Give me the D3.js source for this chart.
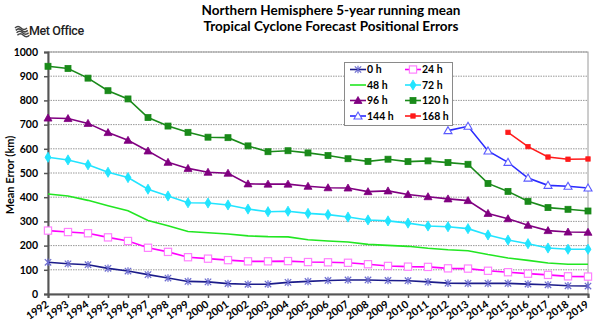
<!DOCTYPE html>
<html>
<head>
<meta charset="utf-8">
<script src="https://cdn.jsdelivr.net/npm/d3@7"></script>
<style>
  html, body { margin: 0; padding: 0; background: #fff; }
  svg { display: block; }
  text { font-family: Lato, "Open Sans", sans-serif; font-weight: bold; fill: #000; }
</style>
</head>
<body>
<svg id="chart" width="600" height="330"></svg>
<script>
// Forecast years (5-year running mean ending in each year)
const years = d3.range(1992, 2020);
const yTicks = [0, 100, 200, 300, 400, 500, 600, 700, 800, 900, 1000];

// Mean positional errors (km) per forecast lead time
const err0h = [131,125,121,106,95,80,66,52,50,43,40,41,48,52,56,58,58,56,55,50,45,44,44,44,41,38,34,33];
const err24h = [262,256,251,234,219,191,174,152,146,140,135,135,136,132,131,129,123,116,113,112,106,105,96,90,84,79,73,72];
const err48h = [413,405,387,365,344,304,282,258,253,248,240,237,236,224,219,215,205,201,197,189,183,179,163,149,139,128,123,123];
const err72h = [565,554,534,503,481,433,405,377,376,368,351,340,342,333,328,318,306,302,293,281,278,270,244,223,208,190,185,185];
const err96h = [727,725,705,667,635,591,544,519,503,499,455,454,454,445,439,438,423,426,411,402,393,386,333,311,284,262,256,255];
const err120h = [941,932,892,840,806,729,694,668,648,646,612,588,592,583,572,559,548,557,547,550,543,536,457,424,383,357,350,343];
const err144h = [null,null,null,null,null,null,null,null,null,null,null,null,null,null,null,null,null,null,null,null,675,693,591,544,479,449,445,438];
const err168h = [null,null,null,null,null,null,null,null,null,null,null,null,null,null,null,null,null,null,null,null,null,null,null,668,609,566,557,558];

const seriesNames = ["0 h", "24 h", "48 h", "72 h", "96 h", "120 h", "144 h", "168 h"];
const seriesValues = [err0h, err24h, err48h, err72h, err96h, err120h, err144h, err168h];

// Per-series look: line colour, marker kind, marker stroke/fill
const styles = [
  { line: "#1c1c8a", marker: "asterisk", mstroke: "#6b6bd0", mfill: "none", size: 3.2 },
  { line: "#ff00ff", marker: "squareOpen", mstroke: "#ff80ff", mfill: "#fff", size: 3.6 },
  { line: "#22e622", marker: "none" },
  { line: "#22e4ff", marker: "dot", mstroke: "#22e4ff", mfill: "#22e4ff", size: 2.6 },
  { line: "#800080", marker: "triangle", mstroke: "#800080", mfill: "#800080", size: 4 },
  { line: "#1a8a1a", marker: "square", mstroke: "#1a8a1a", mfill: "#1a8a1a", size: 3 },
  { line: "#2a2aff", marker: "triangleOpen", mstroke: "#5a5aff", mfill: "#fff", size: 4 },
  { line: "#ff1a1a", marker: "square", mstroke: "#ff1a1a", mfill: "#ff1a1a", size: 2.2 }
];

const svg = d3.select("#chart");
const plotLeft = 48, plotRight = 588, plotTop = 52, plotBottom = 294;

const x = d3.scaleLinear().domain([1992, 2019]).range([plotLeft, plotRight]);
const y = d3.scaleLinear().domain([0, 1000]).range([plotBottom, plotTop]);

// Title
svg.append("text").attr("x", 331).attr("y", 15).attr("text-anchor", "middle")
  .style("font-size", "13.5px").text("Northern Hemisphere 5-year running mean");
svg.append("text").attr("x", 331).attr("y", 31).attr("text-anchor", "middle")
  .style("font-size", "13.5px").text("Tropical Cyclone Forecast Positional Errors");

// Met Office wordmark
const logo = svg.append("g").attr("transform", "translate(15,25)");
[0, 2.4, 4.8, 7.2].forEach((dy, i) => {
  logo.append("path")
    .attr("d", `M${i * 0.8},${dy + 3} q3,-3 6,0 t6,0`)
    .attr("fill", "none").attr("stroke", "#444").attr("stroke-width", 1.5);
});
svg.append("text").attr("x", 29).attr("y", 35)
  .style("font-family", "Roboto, sans-serif").style("font-weight", "500")
  .style("font-size", "12.5px").style("letter-spacing", "-0.4px").style("fill", "#222")
  .text("Met Office");

// Grid lines
svg.append("g").selectAll("line").data(yTicks.filter(t => t > 0)).join("line")
  .attr("x1", plotLeft).attr("x2", plotRight)
  .attr("y1", d => y(d)).attr("y2", d => y(d))
  .attr("stroke", "#999").attr("stroke-width", 1).attr("stroke-dasharray", "1.5,1");

// Plot border
svg.append("rect").attr("x", plotLeft).attr("y", plotTop)
  .attr("width", plotRight - plotLeft).attr("height", plotBottom - plotTop)
  .attr("fill", "none").attr("stroke", "#9a9a9a").attr("stroke-width", 1);

// Y axis
const yAxis = svg.append("g").attr("transform", `translate(${plotLeft},0)`)
  .call(d3.axisLeft(y).tickValues(yTicks).tickSize(4).tickPadding(6).tickFormat(d3.format("d")));
yAxis.select(".domain").attr("stroke", "#555").attr("stroke-width", 2);
yAxis.selectAll(".tick line").attr("stroke", "#555").attr("stroke-width", 1.5);
yAxis.selectAll(".tick text").style("font-size", "10.5px").style("font-family", "Lato, sans-serif").style("font-weight", "bold");

// X axis
const xAxis = svg.append("g").attr("transform", `translate(0,${plotBottom})`)
  .call(d3.axisBottom(x).tickValues(years).tickSize(4).tickFormat(d3.format("d")));
xAxis.select(".domain").attr("stroke", "#555").attr("stroke-width", 2);
xAxis.selectAll(".tick line").attr("stroke", "#555").attr("stroke-width", 1.5);
xAxis.selectAll(".tick text")
  .style("font-size", "10.5px").style("font-family", "Lato, sans-serif").style("font-weight", "bold")
  .attr("text-anchor", "end").attr("dy", null).attr("y", 0)
  .attr("transform", "translate(1,12) rotate(-35)");

// Y axis title
svg.append("text").attr("transform", "translate(14,175) rotate(-90)")
  .attr("text-anchor", "middle").style("font-size", "11px").text("Mean Error (km)");

// Marker drawing
function drawMarker(g, st) {
  const s = st.size;
  if (st.marker === "none") return;
  if (st.marker === "asterisk") {
    g.append("path").attr("d", `M${-s},${-s}L${s},${s}M${-s},${s}L${s},${-s}M0,${-s - 0.6}L0,${s + 0.6}`)
      .attr("stroke", st.mstroke).attr("stroke-width", 1.2).attr("fill", "none");
  } else if (st.marker === "square" || st.marker === "squareOpen") {
    g.append("rect").attr("x", -s).attr("y", -s).attr("width", 2 * s).attr("height", 2 * s)
      .attr("fill", st.mfill).attr("stroke", st.mstroke).attr("stroke-width", st.marker === "squareOpen" ? 1.2 : 0.8);
  } else if (st.marker === "triangle" || st.marker === "triangleOpen") {
    g.append("path").attr("d", `M0,${-s}L${s},${s * 0.75}L${-s},${s * 0.75}Z`)
      .attr("fill", st.mfill).attr("stroke", st.mstroke).attr("stroke-width", st.marker === "triangleOpen" ? 1.1 : 0.8);
  } else if (st.marker === "dot") {
    g.append("path").attr("d", d3.symbol(d3.symbolDiamond, 30)())
      .attr("fill", st.mfill).attr("stroke", st.mstroke).attr("stroke-width", 0.8);
    g.append("circle").attr("r", s).attr("fill", st.mfill);
  }
}

// Series lines and markers
const line = d3.line().defined(d => d.v != null).x(d => x(d.year)).y(d => y(d.v));
seriesValues.forEach((vals, i) => {
  const st = styles[i];
  const pts = years.map((yr, j) => ({ year: yr, v: vals[j] }));
  svg.append("path").datum(pts).attr("d", line)
    .attr("fill", "none").attr("stroke", st.line).attr("stroke-width", 1.6);
  if (st.marker !== "none") {
    pts.filter(d => d.v != null).forEach(d => {
      const g = svg.append("g").attr("transform", `translate(${x(d.year)},${y(d.v)})`);
      drawMarker(g, st);
    });
  }
});

// Legend
const lg = svg.append("g");
lg.append("rect").attr("x", 344.5).attr("y", 62.5).attr("width", 108).attr("height", 63)
  .attr("fill", "#fff").attr("stroke", "#8a8a8a").attr("stroke-width", 1);
seriesNames.forEach((name, i) => {
  const col = i % 2, row = Math.floor(i / 2);
  const lx = 350 + col * 55, ly = 69.5 + row * 15.5;
  const st = styles[i];
  lg.append("line").attr("x1", lx).attr("x2", lx + 16).attr("y1", ly).attr("y2", ly)
    .attr("stroke", st.line).attr("stroke-width", 1.6);
  const g = lg.append("g").attr("transform", `translate(${lx + 8},${ly})`);
  drawMarker(g, st);
  lg.append("text").attr("x", lx + 17).attr("y", ly + 3.8)
    .style("font-size", "10.5px").text(name);
});
</script>
</body>
</html>
